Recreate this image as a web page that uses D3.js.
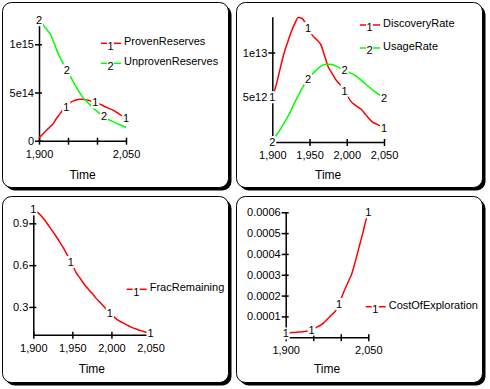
<!DOCTYPE html>
<html>
<head>
<meta charset="utf-8">
<script src="https://cdn.jsdelivr.net/npm/d3@7"></script>
<style>
body { margin: 0; background: #fff; }
svg text { font-family: "Liberation Sans", Arial, sans-serif; }
</style>
</head>
<body>
<svg id="chart" width="490" height="389"></svg>
<script>
const years = [1900, 1905, 1910, 1915, 1920, 1925, 1930, 1935, 1940, 1945, 1950,
    1955, 1960, 1965, 1970, 1975, 1980, 1985, 1990, 1995, 2000,
    2005, 2010, 2015, 2020, 2025, 2030, 2035, 2040, 2045, 2050];

// units of 1e15
const provenReserves = [0.03, 0.06, 0.09, 0.12, 0.15, 0.18, 0.23, 0.27, 0.31, 0.34, 0.37,
    0.40, 0.415, 0.425, 0.43, 0.43, 0.425, 0.42, 0.41, 0.40, 0.39,
    0.38, 0.365, 0.35, 0.335, 0.325, 0.31, 0.29, 0.27, 0.255, 0.24];
const unprovenReserves = [1.25, 1.22, 1.18, 1.14, 1.10, 1.03, 0.95, 0.88, 0.82, 0.76, 0.71,
    0.66, 0.60, 0.55, 0.50, 0.455, 0.42, 0.39, 0.36, 0.33, 0.305,
    0.28, 0.26, 0.24, 0.22, 0.205, 0.19, 0.175, 0.165, 0.15, 0.14];
// units of 1e13
const discoveryRate = [0.50, 0.63, 0.80, 0.97, 1.10, 1.22, 1.32, 1.39, 1.38, 1.32, 1.24,
    1.18, 1.14, 1.09, 0.97, 0.84, 0.77, 0.70, 0.65, 0.60, 0.53,
    0.46, 0.42, 0.39, 0.36, 0.31, 0.26, 0.22, 0.20, 0.18, 0.155];
const usageRate = [0.0, 0.07, 0.13, 0.20, 0.27, 0.35, 0.44, 0.52, 0.60, 0.67, 0.73,
    0.77, 0.81, 0.845, 0.865, 0.87, 0.865, 0.85, 0.83, 0.81, 0.79,
    0.77, 0.75, 0.72, 0.685, 0.65, 0.615, 0.58, 0.55, 0.52, 0.49];
const fracRemaining = [1.00, 0.98, 0.955, 0.92, 0.88, 0.84, 0.80, 0.755, 0.71, 0.655, 0.60,
    0.545, 0.505, 0.465, 0.43, 0.40, 0.365, 0.335, 0.305, 0.275, 0.245,
    0.22, 0.20, 0.185, 0.17, 0.155, 0.145, 0.135, 0.125, 0.118, 0.11];
// units of 1e-4
const costOfExploration = [0.18, 0.20, 0.22, 0.23, 0.24, 0.25, 0.26, 0.28, 0.30, 0.34, 0.40,
    0.46, 0.53, 0.60, 0.72, 0.85, 0.98, 1.11, 1.25, 1.45, 1.80,
    2.15, 2.45, 2.75, 3.05, 3.5, 4.0, 4.5, 5.0, 5.55, 6.0];

// years where the numbered series markers sit
const provenMarks = [1947, 1997, 2050];
const unprovenMarks = [1900, 1948, 2012];
const discoveryMarks = [1900, 1948, 1997, 2050];
const usageMarks = [1900, 1948, 1997, 2050];
const fracMarks = [1900, 1948, 1998, 2050];
const costMarks = [1900, 1947, 1997, 2050];

const xTicks = [1900, 1950, 2000, 2050];
const xLabelsAll = ["1,900", "1,950", "2,000", "2,050"];
const xLabelsEnds = ["1,900", "", "", "2,050"];

const reservesTicks = [0, 0.5, 1.0];
const reservesLabels = ["0", "5e14", "1e15"];
const rateTicks = [0.5, 1.0];
const rateLabels = ["5e12", "1e13"];
const fracTicks = [0.3, 0.6, 0.9];
const fracLabels = ["0.3", "0.6", "0.9"];
const costTicks = [1, 2, 3, 4, 5, 6];
const costLabels = ["0.0001", "0.0002", "0.0003", "0.0004", "0.0005", "0.0006"];

const RED = "#ff0000", GREEN = "#00ff00";
const svg = d3.select("#chart");

function valueAt(values, year) {
    let i = d3.bisectLeft(years, year);
    if (i <= 0) return values[0];
    if (i >= years.length) return values[values.length - 1];
    let t = (year - years[i - 1]) / (years[i] - years[i - 1]);
    return values[i - 1] + t * (values[i] - values[i - 1]);
}

function drawPanel(p) {
    const g = svg.append("g");
    const [bx, by, bw, bh] = p.box;
    g.append("rect").attr("x", bx + 3).attr("y", by + 3).attr("width", bw).attr("height", bh)
        .attr("rx", 9).attr("fill", "#000");
    g.append("rect").attr("x", bx).attr("y", by).attr("width", bw).attr("height", bh)
        .attr("rx", 9).attr("fill", "#fff").attr("stroke", "#000").attr("stroke-width", 1);

    const x = d3.scaleLinear().domain([1900, 2050]).range(p.xRange);
    const y = d3.scaleLinear().domain(p.yDomain).range(p.yRange);

    // axes
    const gx = g.append("g").attr("transform", `translate(0,${p.yRange[0]})`)
        .call(d3.axisBottom(x).tickValues(xTicks).tickFormat((d, i) => p.xLabels[i]).tickSizeOuter(0).tickSizeInner(4));
    gx.selectAll(".tick line").attr("y1", -3).attr("y2", 4);
    gx.selectAll(".tick text").attr("y", 9.5);

    const gy = g.append("g").attr("transform", `translate(${p.xRange[0]},0)`)
        .call(d3.axisLeft(y).tickValues(p.yTicks).tickFormat((d, i) => p.yLabels[i]).tickSizeOuter(0).tickSizeInner(4).tickPadding(1));
    gy.selectAll(".tick line").attr("x1", 3).attr("x2", -4);

    [gx, gy].forEach(a => {
        a.attr("font-size", 11).attr("font-family", null);
        a.selectAll("path, line").attr("stroke", "#000").attr("stroke-width", 1.5);
        a.selectAll("text").attr("fill", "#000");
    });

    g.append("text")
        .attr("x", (p.xRange[0] + p.xRange[1]) / 2)
        .attr("y", p.timeY)
        .attr("text-anchor", "middle")
        .attr("font-size", 12)
        .text("Time");

    // lines
    const line = d3.line()
        .x((d, i) => x(years[i]))
        .y(d => y(d))
        .curve(d3.curveMonotoneX);
    p.series.forEach(s => {
        g.append("path").attr("d", line(s.values))
            .attr("fill", "none").attr("stroke", s.color).attr("stroke-width", 1.5);
    });

    // numbered markers on the lines
    p.series.forEach((s, k) => {
        s.marks.forEach(yr => {
            const mx = x(yr), my = y(valueAt(s.values, yr));
            g.append("rect").attr("x", mx - 4).attr("y", my - 6).attr("width", 8).attr("height", 12).attr("fill", "#fff");
            g.append("text").attr("x", mx).attr("y", my).attr("dy", "0.36em")
                .attr("text-anchor", "middle").attr("font-size", 11).text(k + 1);
        });
    });

    // legend
    p.series.forEach((s, k) => {
        const lx = p.legend[0], ly = p.legend[1] + k * p.legend[2];
        g.append("line").attr("x1", lx).attr("x2", lx + 6).attr("y1", ly).attr("y2", ly)
            .attr("stroke", s.color).attr("stroke-width", 1.5);
        g.append("line").attr("x1", lx + 13).attr("x2", lx + 20).attr("y1", ly).attr("y2", ly)
            .attr("stroke", s.color).attr("stroke-width", 1.5);
        g.append("text").attr("x", lx + 9.5).attr("y", ly + 2.4).attr("dy", "0.36em")
            .attr("text-anchor", "middle").attr("font-size", 11).text(k + 1);
        g.append("text").attr("x", lx + 23).attr("y", ly - 2).attr("dy", "0.36em")
            .attr("font-size", 11).text(s.name);
    });
}

drawPanel({
    box: [2.5, 2.5, 226, 185],
    xRange: [39, 126], yDomain: [0, 1.25], yRange: [140.7, 20.2],
    yTicks: reservesTicks, yLabels: reservesLabels, xLabels: xLabelsEnds,
    timeY: 179, legend: [101, 43.3, 20],
    series: [
        { name: "ProvenReserves", values: provenReserves, color: RED, marks: provenMarks },
        { name: "UnprovenReserves", values: unprovenReserves, color: GREEN, marks: unprovenMarks }
    ]
});

drawPanel({
    box: [236.5, 2.5, 246, 185],
    xRange: [272.3, 384], yDomain: [0, 1.4], yRange: [142, 16.7],
    yTicks: rateTicks, yLabels: rateLabels, xLabels: xLabelsAll,
    timeY: 179, legend: [360, 25, 23],
    series: [
        { name: "DiscoveryRate", values: discoveryRate, color: RED, marks: discoveryMarks },
        { name: "UsageRate", values: usageRate, color: GREEN, marks: usageMarks }
    ]
});

drawPanel({
    box: [2.5, 196.5, 226, 186],
    xRange: [33.3, 150.5], yDomain: [0.1, 1.0], yRange: [334.8, 209.4],
    yTicks: fracTicks, yLabels: fracLabels, xLabels: xLabelsAll,
    timeY: 373, legend: [126.7, 289.3, 22],
    series: [
        { name: "FracRemaining", values: fracRemaining, color: RED, marks: fracMarks }
    ]
});

drawPanel({
    box: [236.5, 196.5, 246, 186],
    xRange: [285.7, 368.3], yDomain: [0, 6], yRange: [337.2, 212.3],
    yTicks: costTicks, yLabels: costLabels, xLabels: xLabelsEnds,
    timeY: 373, legend: [365.7, 306.7, 22],
    series: [
        { name: "CostOfExploration", values: costOfExploration, color: RED, marks: costMarks }
    ]
});
</script>
</body>
</html>
